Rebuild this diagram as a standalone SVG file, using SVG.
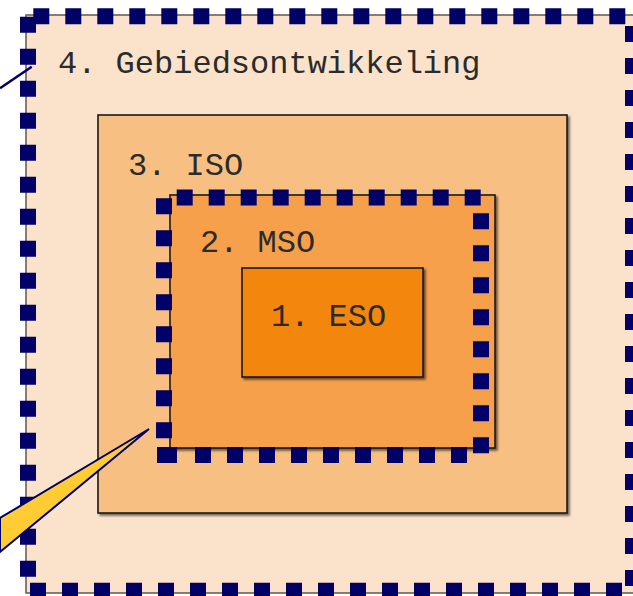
<svg xmlns="http://www.w3.org/2000/svg" width="633" height="596" viewBox="0 0 633 596">
<defs>
<filter id="sh" x="-5%" y="-5%" width="115%" height="115%">
<feDropShadow dx="2" dy="2" stdDeviation="1.2" flood-color="#000" flood-opacity="0.55"/>
</filter>
</defs>
<style>
.box{stroke:#1a1a1a;stroke-width:1.6;filter:url(#sh)}
.lbl{font-family:"Liberation Mono","Courier New",monospace;font-size:32px;fill:#2b2b2b}
.dash{stroke:#000066;stroke-width:16;stroke-dasharray:16 16;fill:none}
</style>
<rect width="633" height="596" fill="#ffffff"/>
<g id="node-gebiedsontwikkeling">
<rect x="26" y="15" width="640" height="578" fill="#fbe3cb" stroke="#6b6058" stroke-width="1.6"/>
<text class="lbl" x="58" y="73">4. Gebiedsontwikkeling</text>
</g>
<g id="node-iso">
<rect class="box" x="98" y="115" width="469" height="398" fill="#f8bf82"/>
<text class="lbl" x="128" y="175">3. ISO</text>
</g>
<g id="node-mso">
<rect class="box" x="170" y="195" width="325" height="253" fill="#f6a04c"/>
<text class="lbl" x="200" y="252">2. MSO</text>
</g>
<g id="node-eso">
<rect class="box" x="242" y="268" width="181" height="109" fill="#f3860f"/>
<text class="lbl" x="271" y="326">1. ESO</text>
</g>
<g id="boundary-outer">
<line class="dash" x1="33.3" y1="16.3" x2="640" y2="16.3"/>
<line class="dash" x1="28" y1="16.7" x2="28" y2="582"/>
<line class="dash" x1="633" y1="26" x2="633" y2="600"/>
<line class="dash" x1="30" y1="590.7" x2="640" y2="590.7"/>
</g>
<g id="boundary-inner">
<line class="dash" x1="176.7" y1="197.5" x2="481" y2="197.5"/>
<line class="dash" x1="164" y1="198.3" x2="164" y2="440"/>
<line class="dash" x1="481" y1="213.3" x2="481" y2="454"/>
<line class="dash" x1="195" y1="455" x2="470" y2="455"/>
<rect x="157" y="447" width="20" height="16" fill="#000066"/>
</g>
<g id="connectors">
<path d="M149,429 L0,518 L0,552 Z" fill="#ffcc33" stroke="#000066" stroke-width="2" stroke-linejoin="miter"/>
<line x1="31.7" y1="66.7" x2="0" y2="88.3" stroke="#000066" stroke-width="2.5"/>
</g>
</svg>
